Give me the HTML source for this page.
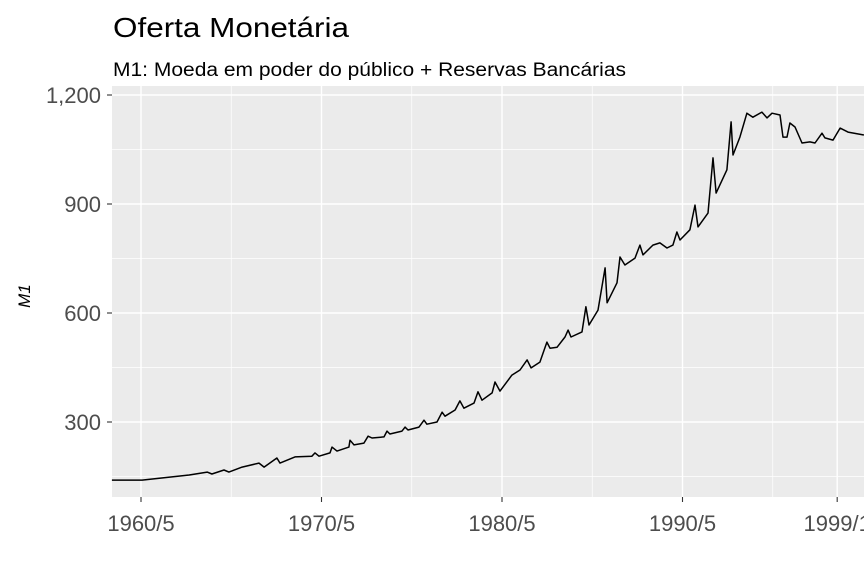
<!DOCTYPE html>
<html><head><meta charset="utf-8"><style>
body{margin:0;background:#fff;}
svg{display:block;font-family:"Liberation Sans",Arial,sans-serif;}
</style></head><body>
<svg id="chart" width="864" height="576">
<text x="113" y="37" font-size="28" textLength="236" lengthAdjust="spacingAndGlyphs" fill="#000">Oferta Monetária</text>
<text x="113" y="76" font-size="19" textLength="513" lengthAdjust="spacingAndGlyphs" fill="#000">M1: Moeda em poder do público + Reservas Bancárias</text>
<rect x="112" y="86" width="752" height="411" fill="#ebebeb"/>
<g id="grid"></g>
<g id="axes"></g>
<path id="line" fill="none" stroke="#000" stroke-width="1.5" stroke-linejoin="round"/>
<text transform="translate(30,296) rotate(-90)" text-anchor="middle" font-size="17" font-style="italic" fill="#000">M1</text>
</svg>
<script>
const dates=[1958.72,1960.39,1963.0,1964.0,1964.26,1964.93,1965.2,1965.93,1966.87,1967.15,1967.86,1968.03,1968.86,1969.8,1969.97,1970.19,1970.8,1970.91,1971.19,1971.85,1971.91,1972.13,1972.68,1972.91,1973.13,1973.79,1973.96,1974.12,1974.79,1974.96,1975.12,1975.73,1976.01,1976.17,1976.73,1977.01,1977.17,1977.73,1978.0,1978.22,1978.78,1979.0,1979.22,1979.78,1979.94,1980.22,1980.88,1981.33,1981.72,1981.94,1982.43,1982.82,1982.99,1983.38,1983.82,1983.99,1984.15,1984.76,1984.98,1985.15,1985.65,1986.04,1986.15,1986.7,1986.87,1987.14,1987.7,1987.97,1988.14,1988.69,1989.08,1989.47,1989.8,1990.02,1990.19,1990.74,1991.02,1991.19,1991.74,1992.02,1992.19,1992.79,1993.02,1993.13,1993.51,1993.9,1994.23,1994.73,1995.01,1995.29,1995.73,1995.9,1996.12,1996.28,1996.56,1996.95,1997.39,1997.67,1998.06,1998.22,1998.67,1999.06,1999.5,2000.38];
const values=[140,140,154,162,157,168,162,176,187,176,201,187,204,206,215,206,215,231,220,231,250,237,242,261,256,259,275,267,275,286,278,286,305,294,300,327,316,333,358,338,352,383,360,380,410,385,429,443,471,449,465,520,503,506,534,553,534,548,617,567,608,724,628,683,754,732,751,787,760,787,793,779,787,823,801,829,897,837,875,1027,930,994,1126,1035,1084,1150,1139,1153,1137,1150,1145,1084,1084,1123,1112,1068,1071,1068,1095,1082,1076,1109,1098,1090];
const yTicks=[300,600,900,1200];
const yTickLabels=["300","600","900","1,200"];
const yMinor=[150,450,750,1050];
const xTicks=[1960.33,1970.33,1980.33,1990.33,1998.9];
const xTickLabels=["1960/5","1970/5","1980/5","1990/5","1999/1"];
const xMinor=[1965.33,1975.33,1985.33,1995.33];

const sx=t=>141+(t-1960.33)*18.05;
const sy=v=>422-(v-300)*0.36333;
const NS="http://www.w3.org/2000/svg";
const grid=document.getElementById('grid'),axes=document.getElementById('axes');
function ln(g,x1,y1,x2,y2,c,w){const l=document.createElementNS(NS,'line');l.setAttribute('x1',x1);l.setAttribute('y1',y1);l.setAttribute('x2',x2);l.setAttribute('y2',y2);l.setAttribute('stroke',c);l.setAttribute('stroke-width',w);g.appendChild(l);return l;}
function tx(x,y,s,anchor){const t=document.createElementNS(NS,'text');t.setAttribute('x',x);t.setAttribute('y',y);t.setAttribute('text-anchor',anchor);t.setAttribute('font-size','22');t.setAttribute('fill','#4d4d4d');t.textContent=s;axes.appendChild(t);return t;}
yMinor.forEach(v=>{const l=ln(grid,112,sy(v),864,sy(v),'#fff',0.7);

});
xMinor.forEach(v=>{const l=ln(grid,sx(v),86,sx(v),497,'#fff',0.7);

});
yTicks.forEach((v,i)=>{const l=ln(grid,112,sy(v),864,sy(v),'#fff',1.4);


const k=ln(axes,107,sy(v),112,sy(v),'#333',1.1);


const t=tx(101,sy(v)+8,yTickLabels[i],'end');

});
xTicks.forEach((v,i)=>{const l=ln(grid,sx(v),86,sx(v),497,'#fff',1.4);


const k=ln(axes,sx(v),497,sx(v),502,'#333',1.1);


const t=tx(sx(v),531,xTickLabels[i],'middle');

});
let d='';dates.forEach((t,i)=>{d+=(i?'L':'M')+sx(t).toFixed(1)+','+sy(values[i]).toFixed(1);});
document.getElementById('line').setAttribute('d',d);
</script>
</body></html>
